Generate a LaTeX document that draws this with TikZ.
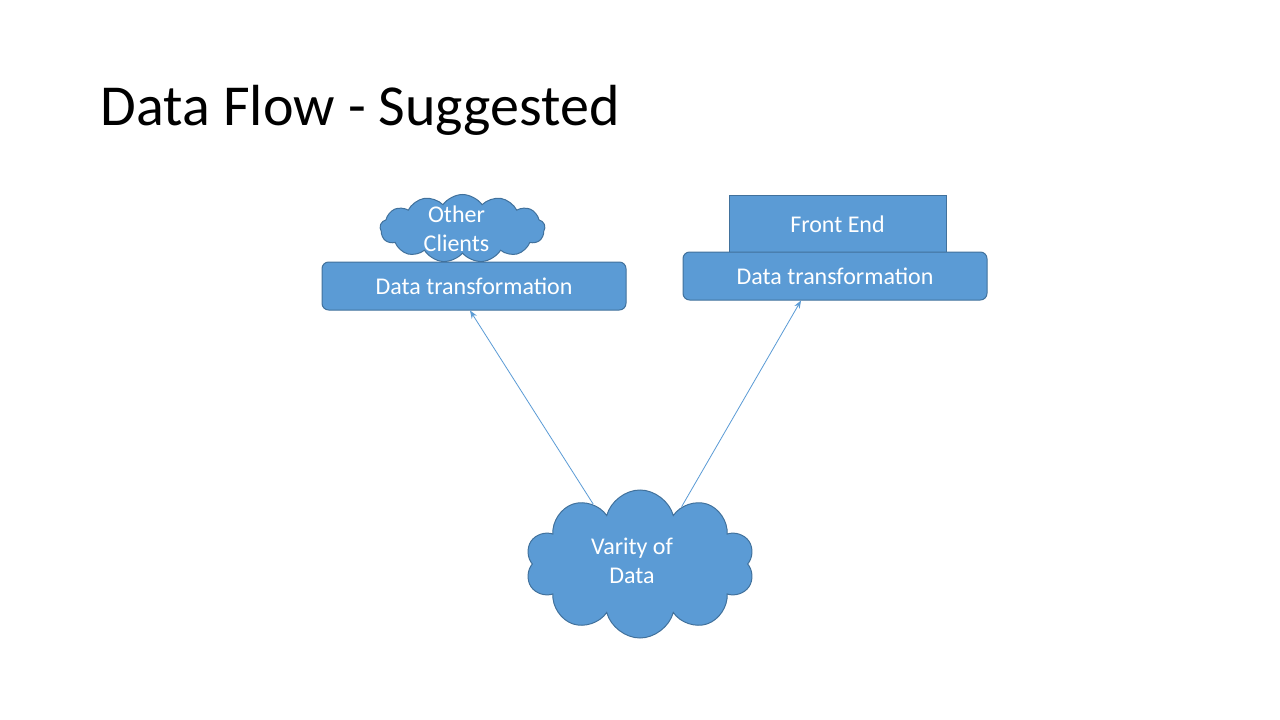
\documentclass[tikz,border=0pt]{standalone}
\usepackage{fontspec}
\setmainfont{Carlito}
\usetikzlibrary{shapes,arrows.meta,positioning}
\definecolor{mblue}{HTML}{5B9BD5}
\definecolor{mline}{HTML}{41719C}
\tikzstyle{box}=[rectangle, draw=mline, fill=mblue, line width=0.75pt, text=white, font=\fontsize{18}{21.75}\selectfont]
\tikzstyle{dtbox}=[box, rounded corners=5pt, minimum width=228pt, minimum height=36pt]
\tikzstyle{puffs}=[cloud, cloud ignores aspect, draw=mline, fill=mblue, line width=0.75pt, inner sep=0pt]
\tikzstyle{ctext}=[text=white, align=center, font=\fontsize{18}{21.75}\selectfont]
\tikzstyle{flow}=[line width=0.6pt, draw=mblue, -{Stealth[length=6pt,width=4.5pt]}]

\begin{document}
\begin{tikzpicture}[x=0.75pt, y=-0.75pt]
    \useasboundingbox (0,0) rectangle (1280,720);
    \node (title) [anchor=base west, font=\fontsize{43.5}{52}\selectfont] at (96,126) {Data Flow - Suggested};

    % left column
    \node (clients) [puffs, cloud puffs=13, cloud puff arc=110, minimum width=123.75pt, minimum height=51pt,
        label={[ctext, xshift=-4.5pt]center:Other\\Clients}] at (462.5,228.5) {};
    \node (otherdt) [dtbox] at (474,286) {Data transformation};

    % right column
    \node (frontend) [box, minimum width=162.75pt, minimum height=44pt] at (837.5,224.5) {Front End};
    \node (frontdt) [dtbox] at (835,276) {Data transformation};

    % source
    \node (data) [puffs, cloud puffs=10, minimum width=171.75pt, minimum height=111pt,
        label={[ctext, xshift=-6pt, yshift=2.6pt]center:Varity of\\Data}] at (640,564) {};

    \draw[flow] (data.128) -- ([xshift=-3pt]otherdt.south);
    \draw[flow] (data.54) -- ([xshift=-25.5pt]frontdt.south);
\end{tikzpicture}
\end{document}
